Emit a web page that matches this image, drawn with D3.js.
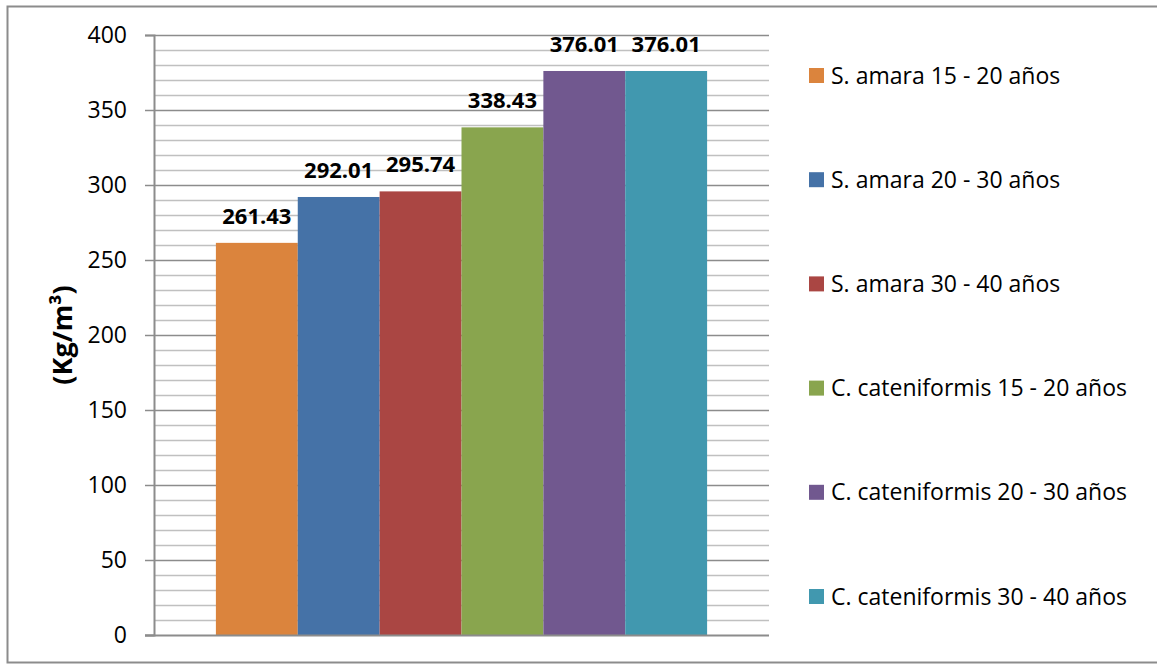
<!DOCTYPE html>
<html>
<head>
<meta charset="utf-8">
<script src="https://cdn.jsdelivr.net/npm/d3@7"></script>
<style>
  html, body { margin: 0; padding: 0; background: #fff; }
  svg { display: block; font-family: "Open Sans", Lato, sans-serif; }
</style>
</head>
<body>
<svg id="chart" width="1157" height="664"></svg>
<script>
// Series (one bar each) and their densities
const series = [
  "S. amara 15 - 20 años",
  "S. amara 20 - 30 años",
  "S. amara 30 - 40 años",
  "C. cateniformis 15 - 20 años",
  "C. cateniformis 20 - 30 años",
  "C. cateniformis 30 - 40 años"
];
const values = [261.43, 292.01, 295.74, 338.43, 376.01, 376.01];
const colors = ["#DB843D", "#4572A7", "#AA4643", "#89A54E", "#71588F", "#4198AF"];
const yTicks = [0, 50, 100, 150, 200, 250, 300, 350, 400];
const yLabel = "(Kg/m³)";

const svg = d3.select("#chart");
const W = 1157, H = 664;
const FONT = "'Open Sans', Lato, sans-serif";

// outer chart frame
svg.append("rect")
  .attr("x", 7.5).attr("y", 6.5)
  .attr("width", W).attr("height", H - 8)
  .attr("fill", "#fff").attr("stroke", "#8c8c8c").attr("stroke-width", 2);

const plot = { left: 154, right: 769, top: 35, bottom: 635 };

const y = d3.scaleLinear().domain([0, 400]).range([plot.bottom, plot.top]);
const x = d3.scaleBand().domain(series)
  .range([plot.left, plot.right])
  .paddingInner(0).paddingOuter(0.756);

// minor gridlines every 10
const minor = d3.range(10, 400, 10).filter(v => v % 50 !== 0);
svg.append("g").selectAll("line").data(minor).join("line")
  .attr("x1", plot.left).attr("x2", plot.right)
  .attr("y1", d => y(d) + 0.5).attr("y2", d => y(d) + 0.5)
  .attr("stroke", "#c0c0c0").attr("stroke-width", 1.5);

// major gridlines every 50
svg.append("g").selectAll("line").data(yTicks.filter(v => v > 0)).join("line")
  .attr("x1", plot.left).attr("x2", plot.right)
  .attr("y1", d => y(d) + 0.5).attr("y2", d => y(d) + 0.5)
  .attr("stroke", "#8c8c8c").attr("stroke-width", 1.5);

// bars
svg.append("g").selectAll("rect").data(series).join("rect")
  .attr("x", d => x(d))
  .attr("width", x.bandwidth())
  .attr("y", (d, i) => y(values[i]))
  .attr("height", (d, i) => y(0) - y(values[i]))
  .attr("fill", (d, i) => colors[i]);

// value labels
svg.append("g").selectAll("text").data(series).join("text")
  .attr("x", d => x(d) + x.bandwidth() / 2)
  .attr("y", (d, i) => y(values[i]) - 19)
  .attr("text-anchor", "middle")
  .attr("font-size", 22).attr("font-weight", "bold").attr("fill", "#000")
  .text((d, i) => values[i].toFixed(2));

// y axis
const yAxis = d3.axisLeft(y).tickValues(yTicks).tickSize(9).tickPadding(18);
const gy = svg.append("g").attr("transform", `translate(${plot.left},0)`).call(yAxis);
gy.select(".domain").attr("stroke", "#8c8c8c").attr("stroke-width", 2);
gy.selectAll(".tick line").attr("stroke", "#8c8c8c").attr("stroke-width", 1.5);
gy.selectAll(".tick text").attr("font-size", 23).attr("fill", "#000")
  .attr("font-family", FONT);

// x axis baseline
svg.append("line")
  .attr("x1", plot.left - 9).attr("x2", plot.right)
  .attr("y1", y(0) + 0.5).attr("y2", y(0) + 0.5)
  .attr("stroke", "#8c8c8c").attr("stroke-width", 2);

// y axis title
svg.append("text")
  .attr("transform", `translate(72,${(plot.top + plot.bottom) / 2}) rotate(-90)`)
  .attr("text-anchor", "middle")
  .attr("font-size", 27).attr("font-weight", "bold").attr("fill", "#000")
  .text(yLabel);

// legend
const legend = svg.append("g").selectAll("g").data(series).join("g")
  .attr("transform", (d, i) => `translate(809,${76 + i * 104.2})`);
legend.append("rect")
  .attr("x", 0).attr("y", -8).attr("width", 15).attr("height", 15)
  .attr("fill", (d, i) => colors[i]);
legend.append("text")
  .attr("x", 22).attr("y", 7.5)
  .attr("font-size", 23).attr("fill", "#000")
  .text(d => d);
</script>
</body>
</html>
